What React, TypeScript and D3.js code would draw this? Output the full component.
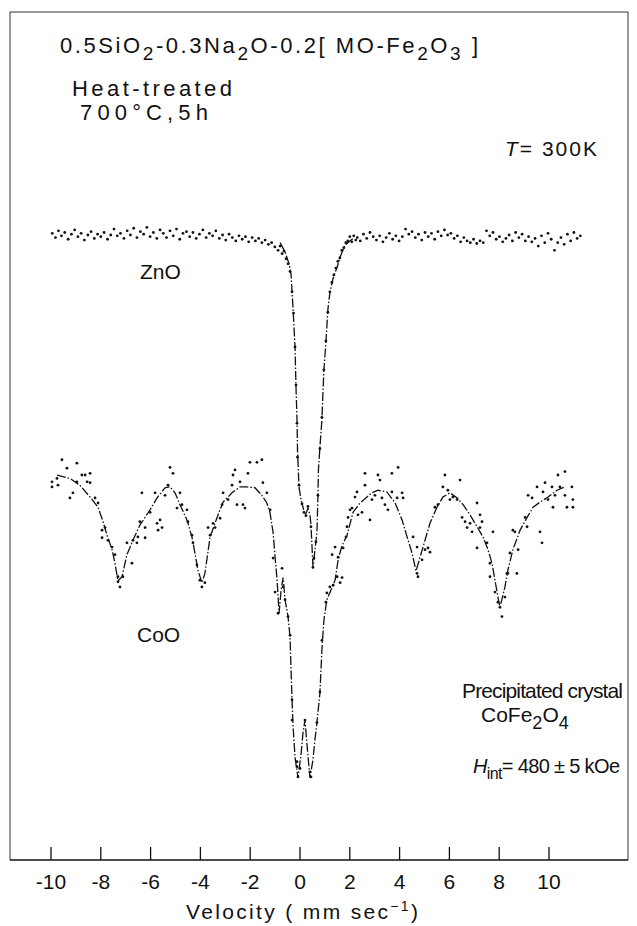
import React from "react";
import * as d3 from "d3";

// velocity (mm/s) tick values
const velTicks = [-10, -8, -6, -4, -2, 0, 2, 4, 6, 8, 10];

// ZnO sample: fitted curve [velocity, relative transmission]
const znoFit: [number, number][] = [
  [-0.8, 72.8], [-0.6, 71.7], [-0.44, 70.3], [-0.36, 69.1], [-0.32, 67.0], [-0.28, 65.1],
  [-0.2, 60.5], [-0.16, 55.7], [-0.12, 51.9], [-0.1, 48.3], [-0.04, 44.0], [0.04, 42.5],
  [0.12, 41.6], [0.2, 40.7], [0.26, 41.0], [0.32, 41.5], [0.4, 40.7], [0.44, 39.5],
  [0.48, 37.1], [0.52, 34.6], [0.56, 35.4], [0.6, 36.6], [0.68, 38.6], [0.72, 42.9],
  [0.74, 46.0], [0.8, 48.7], [0.88, 51.9], [0.92, 55.0], [0.96, 57.8], [1.04, 61.0],
  [1.12, 64.9], [1.2, 66.9], [1.33, 68.6], [1.49, 69.9], [1.61, 71.1], [1.81, 72.5], [2.13, 73.3],
];

// ZnO sample: measured points
const znoPts: [number, number][] = [
  [-9.95, 73.9], [-9.82, 73.4], [-9.7, 74.2], [-9.58, 73.6], [-9.45, 74.0], [-9.31, 73.2],
  [-9.18, 73.8], [-9.05, 74.3], [-8.92, 73.5], [-8.79, 73.9], [-8.66, 73.1], [-8.52, 73.7],
  [-8.39, 74.1], [-8.26, 73.3], [-8.13, 73.8], [-8.0, 73.5], [-7.87, 74.0], [-7.73, 73.2],
  [-7.6, 73.7], [-7.47, 74.4], [-7.34, 73.6], [-7.21, 73.9], [-7.07, 73.3], [-6.94, 74.2],
  [-6.81, 73.7], [-6.68, 74.5], [-6.55, 73.4], [-6.41, 74.1], [-6.28, 73.8], [-6.15, 74.6],
  [-6.02, 73.5], [-5.89, 74.0], [-5.75, 73.3], [-5.62, 74.3], [-5.49, 73.9], [-5.36, 73.4],
  [-5.22, 74.2], [-5.09, 73.6], [-4.96, 74.4], [-4.83, 73.2], [-4.7, 73.9], [-4.56, 74.1],
  [-4.43, 73.5], [-4.3, 74.0], [-4.17, 73.3], [-4.04, 73.8], [-3.9, 74.3], [-3.77, 73.4],
  [-3.64, 73.9], [-3.51, 73.6], [-3.38, 74.2], [-3.24, 73.3], [-3.11, 73.7], [-2.98, 73.1],
  [-2.85, 73.8], [-2.72, 73.4], [-2.58, 73.0], [-2.45, 73.6], [-2.32, 73.2], [-2.19, 73.5],
  [-2.06, 72.9], [-1.92, 73.4], [-1.79, 73.0], [-1.66, 73.3], [-1.53, 72.8], [-1.4, 73.1],
  [-1.27, 72.6], [-1.14, 72.8], [-1.01, 72.3], [-0.88, 71.9], [-0.8, 72.4], [-0.72, 71.5],
  [-0.64, 71.8], [-0.56, 70.9], [-0.48, 70.3], [-0.4, 69.4], [-0.32, 67.0], [-0.26, 64.5],
  [-0.2, 60.5], [-0.16, 56.0], [-0.12, 51.5], [-0.1, 47.5], [-0.04, 44.2], [0.08, 42.0],
  [0.16, 41.0], [0.24, 40.6], [0.32, 41.7], [0.44, 39.3], [0.52, 34.5], [0.56, 35.6],
  [0.64, 37.5], [0.72, 43.0], [0.8, 48.5], [0.88, 52.2], [0.96, 57.8], [1.04, 61.2],
  [1.12, 64.6], [1.2, 67.0], [1.28, 68.1], [1.36, 69.0], [1.44, 69.8], [1.52, 70.6],
  [1.6, 71.0], [1.68, 71.9], [1.76, 72.2], [1.84, 72.8], [1.92, 73.0], [2.0, 73.5],
  [2.08, 72.9], [2.16, 73.6], [2.24, 73.1],
  [2.3, 73.4], [2.42, 73.0], [2.55, 73.8], [2.68, 73.3], [2.81, 74.0], [2.94, 73.5],
  [3.07, 73.1], [3.2, 73.6], [3.33, 72.9], [3.46, 73.4], [3.59, 73.9], [3.72, 73.2],
  [3.85, 73.6], [3.98, 73.0], [4.11, 73.5], [4.24, 74.4], [4.37, 73.8], [4.5, 74.1],
  [4.63, 73.4], [4.76, 73.8], [4.89, 73.1], [5.02, 74.0], [5.15, 73.5], [5.28, 73.9],
  [5.41, 73.2], [5.54, 74.1], [5.67, 73.6], [5.8, 74.3], [5.93, 73.7], [6.06, 73.9],
  [6.19, 73.3], [6.32, 73.6], [6.45, 72.9], [6.58, 73.4], [6.71, 73.0], [6.84, 72.8],
  [6.97, 73.2], [7.1, 72.7], [7.23, 73.0], [7.36, 72.8], [7.49, 74.2], [7.62, 73.6],
  [7.75, 74.0], [7.88, 73.2], [8.01, 73.5], [8.14, 72.9], [8.27, 73.3], [8.4, 73.7],
  [8.53, 73.0], [8.66, 74.0], [8.79, 73.4], [8.92, 73.8], [9.05, 73.0], [9.18, 73.5],
  [9.31, 72.9], [9.44, 73.3], [9.57, 72.4], [9.7, 73.6], [9.83, 72.8], [9.96, 73.9],
  [10.09, 73.2], [10.22, 71.9], [10.35, 72.8], [10.48, 73.4], [10.61, 72.6], [10.74, 73.8],
  [10.87, 73.0], [11.0, 74.0], [11.13, 73.3], [11.26, 73.6],
];

// CoO sample: fitted curve
const cooFit: [number, number][] = [
  [-9.76, 45.4], [-9.24, 45.0], [-8.84, 44.2], [-8.43, 42.8], [-8.11, 41.6], [-7.91, 39.9],
  [-7.75, 38.3], [-7.55, 36.6], [-7.43, 35.0], [-7.31, 32.9], [-7.15, 33.4], [-6.95, 36.0],
  [-6.71, 37.7], [-6.43, 39.5], [-6.02, 41.3], [-5.74, 42.7], [-5.42, 43.9], [-5.22, 44.0],
  [-5.02, 43.3], [-4.82, 41.9], [-4.54, 40.1], [-4.34, 38.1], [-4.22, 36.2], [-4.1, 34.2],
  [-3.94, 32.7], [-3.82, 33.8], [-3.61, 38.1], [-3.33, 40.4], [-3.09, 42.2], [-2.73, 43.3],
  [-2.41, 44.0], [-2.13, 44.0], [-1.81, 43.9], [-1.53, 43.0], [-1.33, 42.1], [-1.2, 40.9],
  [-1.08, 38.6], [-1.0, 35.7], [-0.92, 33.0], [-0.84, 29.1], [-0.76, 31.8], [-0.68, 33.3],
  [-0.6, 30.7], [-0.48, 28.7], [-0.4, 26.3], [-0.36, 22.4], [-0.32, 18.9], [-0.28, 15.9],
  [-0.2, 12.1], [-0.08, 9.7], [0.04, 12.4], [0.12, 15.0], [0.2, 16.5], [0.28, 13.6],
  [0.4, 9.7], [0.52, 11.8], [0.6, 14.2], [0.68, 16.2], [0.8, 19.7], [0.88, 24.8],
  [0.96, 28.3], [1.08, 30.7], [1.24, 31.8], [1.41, 33.0], [1.53, 35.4], [1.69, 37.1],
  [1.89, 38.3], [2.13, 41.0], [2.41, 42.1], [2.69, 42.8], [2.89, 43.3], [3.13, 43.6],
  [3.49, 43.4], [3.82, 42.1], [4.1, 40.1], [4.3, 38.1], [4.5, 36.2], [4.66, 34.1],
  [4.82, 35.7], [5.02, 37.7], [5.22, 39.7], [5.5, 41.6], [5.74, 42.8], [6.02, 43.3],
  [6.31, 42.7], [6.55, 41.9], [6.83, 40.7], [7.11, 39.3], [7.35, 38.1], [7.55, 36.6],
  [7.71, 35.0], [7.83, 33.0], [7.95, 31.0], [8.03, 29.8], [8.23, 32.2], [8.35, 34.2],
  [8.55, 36.6], [8.84, 38.9], [9.12, 40.4], [9.36, 41.6], [9.64, 42.2], [9.96, 42.8],
  [10.32, 43.6], [10.64, 44.0],
];

// CoO sample: measured points
const cooPts: [number, number][] = [
  [-9.96, 44.6], [-9.96, 44.0], [-9.76, 45.0], [-9.72, 44.2], [-9.56, 47.2], [-9.36, 46.2],
  [-9.24, 42.7], [-9.12, 43.3], [-8.96, 46.8], [-8.96, 44.6], [-8.76, 45.4], [-8.63, 45.4],
  [-8.55, 44.6], [-8.43, 45.6], [-8.43, 44.5], [-8.23, 42.7], [-8.11, 42.1], [-7.95, 38.9],
  [-7.83, 39.2], [-7.95, 38.0], [-7.71, 37.7], [-7.55, 36.9], [-7.43, 36.0], [-7.31, 33.4],
  [-7.23, 32.2], [-7.31, 32.8], [-7.11, 33.4], [-6.95, 37.4], [-6.75, 35.0], [-6.71, 37.7],
  [-6.55, 37.4], [-6.51, 38.1], [-6.43, 39.9], [-6.35, 43.3], [-6.22, 39.2], [-6.22, 38.0],
  [-6.02, 41.0], [-5.82, 43.3], [-5.74, 39.7], [-5.7, 38.9], [-5.62, 40.1], [-5.54, 39.2],
  [-5.42, 43.0], [-5.3, 44.2], [-5.22, 46.3], [-5.1, 45.6], [-4.94, 41.5], [-4.82, 43.3],
  [-4.74, 41.9], [-4.54, 41.3], [-4.5, 39.9], [-4.34, 38.3], [-4.3, 37.4], [-4.14, 34.8],
  [-4.02, 33.0], [-3.94, 32.2], [-3.82, 32.7], [-3.69, 39.2], [-3.61, 38.3], [-3.49, 39.7],
  [-3.41, 39.2], [-3.21, 40.3], [-3.13, 41.9], [-3.09, 43.3], [-2.89, 42.5], [-2.73, 44.2],
  [-2.69, 45.4], [-2.61, 46.0], [-2.53, 41.9], [-2.41, 44.6], [-2.29, 41.9], [-2.21, 41.5],
  [-2.09, 45.6], [-2.01, 46.9], [-1.73, 46.9], [-1.53, 47.2], [-1.49, 44.5], [-1.33, 43.3],
  [-1.2, 41.3], [-1.08, 35.6], [-1.0, 31.6], [-0.88, 29.1], [-0.72, 34.4], [-0.68, 32.2],
  [-0.6, 30.7], [-0.48, 28.7], [-0.4, 26.5], [-0.32, 18.9], [-0.32, 16.5], [-0.12, 11.6],
  [-0.12, 11.0], [0.0, 10.8], [-0.08, 9.8], [0.2, 16.5], [0.4, 10.4], [0.44, 9.8],
  [0.68, 16.2], [0.8, 19.8], [0.88, 25.9], [1.04, 30.4], [1.08, 31.5], [1.2, 32.2],
  [1.29, 36.0], [1.33, 32.4], [1.41, 36.9], [1.49, 33.4], [1.53, 35.7], [1.61, 32.7],
  [1.69, 33.3], [1.73, 36.8], [1.85, 38.1], [1.89, 39.3], [1.93, 40.4], [2.01, 41.3],
  [2.09, 41.5], [2.21, 42.8], [2.29, 43.4], [2.33, 40.7], [2.49, 41.0], [2.61, 45.6],
  [2.61, 44.2], [2.81, 40.1], [2.89, 42.5], [3.01, 43.0], [3.13, 45.4], [3.21, 44.8],
  [3.29, 42.7], [3.41, 41.9], [3.53, 41.3], [3.69, 45.6], [3.69, 43.4], [3.9, 42.7],
  [3.94, 46.3], [4.1, 43.3], [4.14, 42.7], [4.54, 38.1], [4.7, 36.9], [4.7, 33.8],
  [4.74, 33.4], [4.9, 35.4], [5.02, 36.6], [5.14, 36.8], [5.22, 36.3], [5.42, 41.6],
  [5.54, 41.9], [5.74, 44.0], [5.82, 45.4], [5.94, 43.6], [6.02, 42.5], [6.14, 42.8],
  [6.31, 42.5], [6.43, 44.8], [6.51, 40.4], [6.63, 39.9], [6.71, 39.2], [6.83, 39.7],
  [6.91, 38.7], [7.11, 42.1], [7.11, 36.8], [7.23, 40.7], [7.23, 39.2], [7.31, 39.9],
  [7.51, 37.4], [7.63, 35.0], [7.63, 33.4], [7.75, 38.7], [7.83, 31.6], [7.95, 30.4],
  [8.03, 29.8], [8.11, 28.7], [8.23, 31.0], [8.31, 33.8], [8.35, 33.8], [8.43, 36.2],
  [8.55, 38.9], [8.63, 38.7], [8.71, 33.8], [8.76, 36.6], [9.04, 40.4], [9.12, 39.3],
  [9.16, 43.0], [9.32, 42.7], [9.52, 44.0], [9.64, 38.7], [9.72, 37.4], [9.76, 43.4],
  [9.84, 44.5], [9.96, 42.5], [10.12, 44.0], [10.16, 41.6], [10.24, 43.0], [10.36, 45.4],
  [10.44, 44.0], [10.64, 45.8], [10.64, 43.0], [10.72, 41.6], [10.92, 44.0], [10.96, 42.5],
  [10.96, 41.6],
];

const font = "'Liberation Sans', Arial, sans-serif";

export default function App() {
  const width = 637;
  const height = 926;
  const left = 10, right = 628, top = 12, bottom = 860;

  const x = d3.scaleLinear().domain([-10, 10]).range([51, 549]);
  const y = d3.scaleLinear().domain([0, 100]).range([bottom, top]);
  const line = d3.line<[number, number]>().x(d => x(d[0])).y(d => y(d[1]));

  const dash = "9 2 1.5 2";

  return (
    <svg width={width} height={height} style={{ position: "absolute", left: 0, top: 0, background: "#fff" }}
      fontFamily={font} fill="#111">
      {/* frame */}
      <path d={`M${left},${bottom} L${left},${top} L${right},${top} L${right},${bottom}`}
        fill="none" stroke="#333" strokeWidth={1} />
      <line x1={left} x2={right} y1={bottom} y2={bottom} stroke="#111" strokeWidth={1.6} />

      {/* ticks */}
      {velTicks.map(t => (
        <g key={t}>
          <line x1={x(t)} x2={x(t)} y1={bottom} y2={bottom - 13} stroke="#111" strokeWidth={1.3} />
          <text x={x(t)} y={bottom + 29} fontSize={21} textAnchor="middle">{t}</text>
        </g>
      ))}
      <text x={186} y={919} fontSize={21} textLength={232} lengthAdjust="spacing">
        Velocity  ( mm  sec<tspan dy={-8} fontSize={14}>−1</tspan><tspan dy={8}>)</tspan>
      </text>

      {/* fitted curves */}
      <path d={line(znoFit) || ""} fill="none" stroke="#111" strokeWidth={1.3} strokeDasharray={dash} />
      <path d={line(cooFit) || ""} fill="none" stroke="#111" strokeWidth={1.3} strokeDasharray={dash} />

      {/* data points */}
      {znoPts.map((d, i) => <circle key={"z" + i} cx={x(d[0])} cy={y(d[1])} r={1.4} />)}
      {cooPts.map((d, i) => <circle key={"c" + i} cx={x(d[0])} cy={y(d[1])} r={1.4} />)}

      {/* annotations */}
      <text x={60} y={53} fontSize={22} textLength={418} lengthAdjust="spacing">
        0.5SiO<tspan dy={7} fontSize={19}>2</tspan><tspan dy={-7}>-0.3Na</tspan><tspan dy={7} fontSize={19}>2</tspan>
        <tspan dy={-7}>O-0.2[ MO-Fe</tspan><tspan dy={7} fontSize={19}>2</tspan><tspan dy={-7}>O</tspan>
        <tspan dy={7} fontSize={19}>3</tspan><tspan dy={-7}>  ]</tspan>
      </text>
      <text x={72} y={96} fontSize={22} textLength={160} lengthAdjust="spacing">Heat-treated</text>
      <text x={80} y={120} fontSize={22} textLength={128} lengthAdjust="spacing">700°C,5h</text>
      <text x={505} y={156} fontSize={21} textLength={92} lengthAdjust="spacing">
        <tspan fontStyle="italic">T</tspan>= 300K
      </text>
      <text x={140} y={279} fontSize={21}>ZnO</text>
      <text x={137} y={642} fontSize={21}>CoO</text>
      <text x={462} y={698} fontSize={21} textLength={161} lengthAdjust="spacing">Precipitated crystal</text>
      <text x={481} y={722} fontSize={21}>
        CoFe<tspan dy={7} fontSize={18}>2</tspan><tspan dy={-7}>O</tspan><tspan dy={7} fontSize={18}>4</tspan>
      </text>
      <text x={473} y={773} fontSize={20} textLength={147} lengthAdjust="spacing">
        <tspan fontStyle="italic">H</tspan><tspan dy={6} fontSize={16}>int</tspan><tspan dy={-6}>= 480 ± 5 kOe</tspan>
      </text>
    </svg>
  );
}
